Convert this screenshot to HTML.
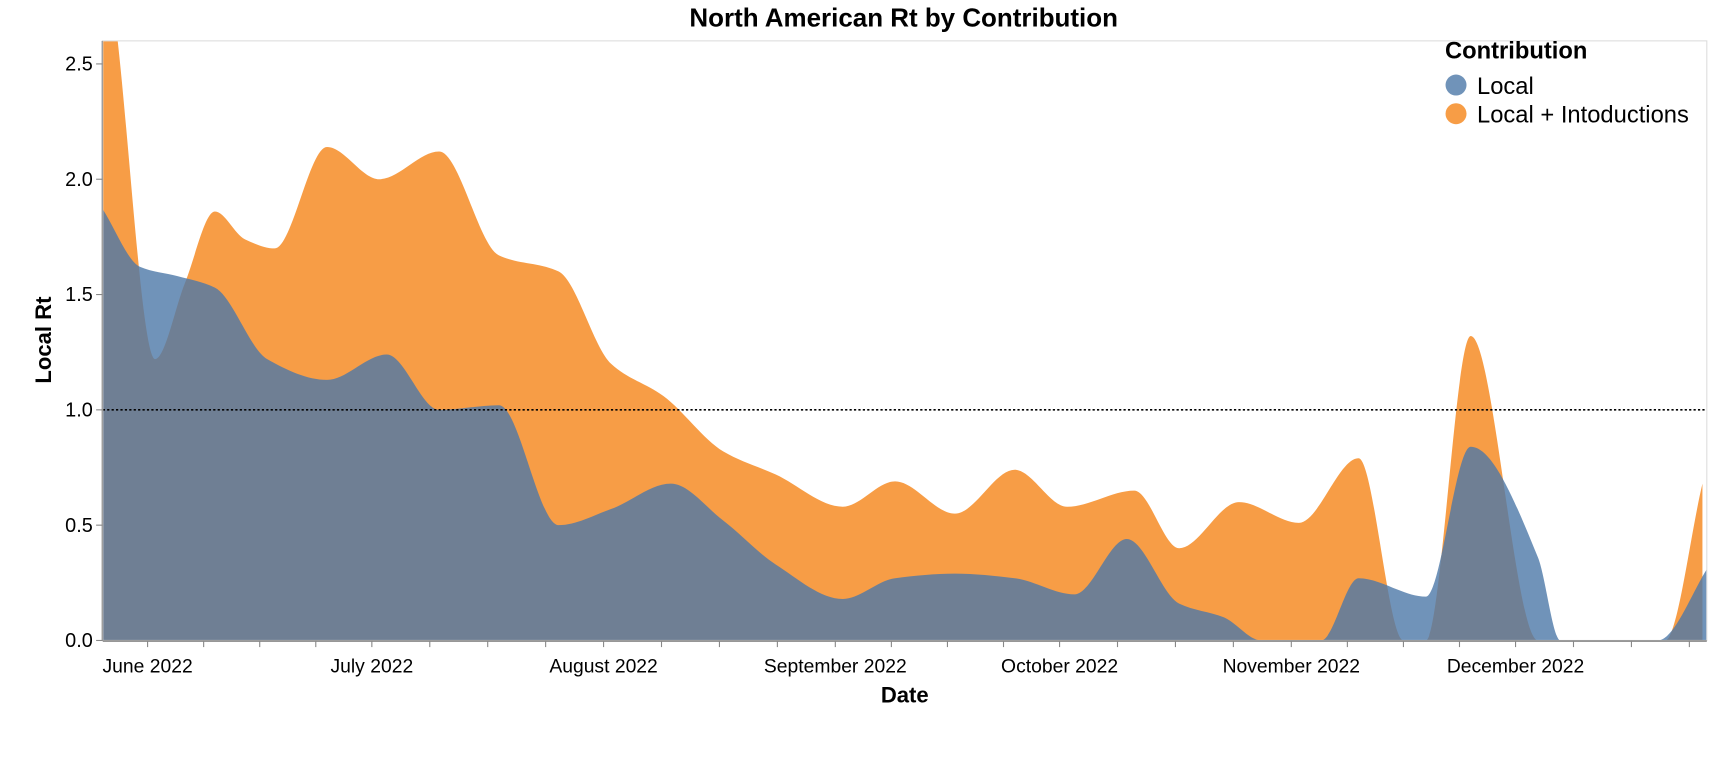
<!DOCTYPE html>
<html><head><meta charset="utf-8"><style>
body{margin:0;background:#fff;font-family:"Liberation Sans",Arial,sans-serif}
svg text{font-family:"Liberation Sans",Arial,sans-serif}
</style></head><body>
<svg id="chart" width="1730" height="752" viewBox="0 0 1566 681" preserveAspectRatio="none" xmlns="http://www.w3.org/2000/svg">
<defs><clipPath id="clip"><rect x="93" y="37" width="1452" height="543"/></clipPath></defs>
<text x="818" y="24" text-anchor="middle" font-size="23.5" font-weight="bold">North American Rt by Contribution</text>
<g id="plot" clip-path="url(#clip)"></g>
<rect x="93" y="37" width="1452" height="543" fill="none" stroke="#ddd"/>
<g id="axes"></g>
<text transform="translate(46,308) rotate(-90)" text-anchor="middle" font-size="20" font-weight="bold">Local Rt</text>
<text x="819" y="636" text-anchor="middle" font-size="20" font-weight="bold">Date</text>
<g>
<text x="1308" y="53" font-size="21.5" font-weight="bold">Contribution</text>
<circle cx="1318" cy="77" r="9.5" fill="#4c78a8" fill-opacity="0.8"/>
<text x="1337" y="85" font-size="21.5">Local</text>
<circle cx="1318" cy="103" r="9.5" fill="#f58518" fill-opacity="0.8"/>
<text x="1337" y="111" font-size="21.5">Local + Intoductions</text>
</g>
</svg>
<script>
const orangeDates=["2022-05-26","2022-05-28","2022-06-02","2022-06-06","2022-06-10","2022-06-14","2022-06-18","2022-06-25","2022-07-02","2022-07-10","2022-07-18","2022-07-26","2022-08-02","2022-08-09","2022-08-17","2022-08-24","2022-09-02","2022-09-09","2022-09-17","2022-09-25","2022-10-02","2022-10-11","2022-10-17","2022-10-25","2022-11-02","2022-11-10","2022-11-16","2022-11-19","2022-11-25","2022-12-04","2022-12-21","2022-12-26"];
const orangeValues=[3.2,2.6,1.22,1.55,1.86,1.74,1.70,2.14,2.0,2.12,1.67,1.6,1.2,1.06,0.82,0.72,0.58,0.69,0.55,0.74,0.58,0.65,0.40,0.60,0.51,0.79,0,0,1.32,0,0,0.68];
const blueDates=["2022-05-26","2022-05-31","2022-06-05","2022-06-10","2022-06-17","2022-06-25","2022-07-03","2022-07-10","2022-07-18","2022-07-26","2022-08-02","2022-08-10","2022-08-17","2022-08-24","2022-09-02","2022-09-09","2022-09-17","2022-09-25","2022-10-03","2022-10-10","2022-10-17","2022-10-23","2022-10-28","2022-11-05","2022-11-10","2022-11-19","2022-11-25","2022-12-04","2022-12-07","2022-12-20","2022-12-27"];
const blueValues=[1.87,1.62,1.58,1.53,1.22,1.13,1.24,1.0,1.02,0.50,0.57,0.68,0.52,0.33,0.18,0.27,0.29,0.27,0.20,0.44,0.16,0.1,0,0,0.27,0.19,0.84,0.36,0,0,0.33];
const yTicks=[0,0.5,1.0,1.5,2.0,2.5];
const monthLabels=["June 2022","July 2022","August 2022","September 2022","October 2022","November 2022","December 2022"];
const monthStarts=["2022-06-01","2022-07-01","2022-08-01","2022-09-01","2022-10-01","2022-11-01","2022-12-01"];
const threshold=1.0;

const NS="http://www.w3.org/2000/svg";
const t0=Date.UTC(2022,4,26), t1=Date.UTC(2022,11,26,14);
const X0=93,X1=1545,Y0=580,YMAX=2.6,YTOP=37;
function ms(s){const p=s.split("-");return Date.UTC(+p[0],+p[1]-1,+p[2]);}
function x(s){return X0+(ms(s)-t0)/(t1-t0)*(X1-X0);}
function xt(t){return X0+(t-t0)/(t1-t0)*(X1-X0);}
function y(v){return Y0-v/YMAX*(Y0-YTOP);}
function mk(tag,attrs,parent){const e=document.createElementNS(NS,tag);for(const k in attrs)e.setAttribute(k,attrs[k]);parent.appendChild(e);return e;}

function monotonePath(px,py){
  const n=px.length;const d=[],m=new Array(n);
  for(let i=0;i<n-1;i++)d.push((py[i+1]-py[i])/(px[i+1]-px[i]));
  m[0]=d[0];m[n-1]=d[n-2];
  for(let i=1;i<n-1;i++){
    if(d[i-1]*d[i]<=0)m[i]=0;
    else{const h0=px[i]-px[i-1],h1=px[i+1]-px[i];
      m[i]=3*(h0+h1)/((2*h1+h0)/d[i-1]+(h1+2*h0)/d[i]);}
  }
  let s="M"+px[0]+","+py[0];
  for(let i=0;i<n-1;i++){const h=(px[i+1]-px[i])/3;
    s+="C"+(px[i]+h)+","+(py[i]+m[i]*h)+" "+(px[i+1]-h)+","+(py[i+1]-m[i+1]*h)+" "+px[i+1]+","+py[i+1];}
  return s;
}
function area(dates,vals){
  const px=dates.map(x),py=vals.map(y);
  return monotonePath(px,py)+"L"+px[px.length-1]+","+Y0+"L"+px[0]+","+Y0+"Z";
}
const plot=document.getElementById("plot");
const ao=mk("path",{d:area(orangeDates,orangeValues),fill:"#f58518","fill-opacity":0.8},plot);


const ab=mk("path",{d:area(blueDates,blueValues),fill:"#4c78a8","fill-opacity":0.8},plot);


const rl=mk("line",{x1:X0,x2:X1,y1:y(threshold),y2:y(threshold),stroke:"#000","stroke-width":1.5,"stroke-dasharray":"2,2"},plot);



const axes=document.getElementById("axes");
mk("line",{x1:X0-0.5,x2:X0-0.5,y1:YTOP,y2:Y0,stroke:"#888"},axes);
mk("line",{x1:X0,x2:X1,y1:Y0+0.5,y2:Y0+0.5,stroke:"#888","stroke-width":1.5},axes);
yTicks.forEach(v=>{
  const g=mk("g",{},axes);
  
  
  mk("line",{x1:X0-6,x2:X0,y1:y(v),y2:y(v),stroke:"#888"},g);
  const t=mk("text",{x:X0-9,y:y(v)+6,"text-anchor":"end","font-size":18},g);
  t.textContent=v.toFixed(1);
});
monthStarts.forEach((s,i)=>{
  const g=mk("g",{},axes);
  
  
  const t0m=ms(s);const p=s.split("-");const next=Date.UTC(+p[0],+p[1],1);
  for(let q=0;q<4;q++){const tt=t0m+(next-t0m)*q/4;const xx=xt(tt);
    if(xx<=X1)mk("line",{x1:xx,x2:xx,y1:Y0,y2:Y0+6,stroke:"#888"},g);}
  const tx=mk("text",{x:x(s),y:Y0+29,"text-anchor":"middle","font-size":17.5},g);
  tx.textContent=monthLabels[i];
});
</script>
</body></html>
